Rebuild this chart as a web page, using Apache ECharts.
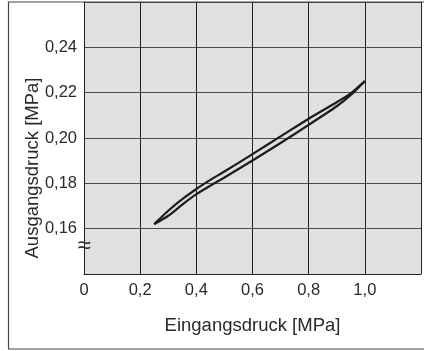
<!DOCTYPE html>
<html>
<head>
<meta charset="utf-8">
<script src="https://cdn.jsdelivr.net/npm/echarts@6/dist/echarts.min.js"></script>
<style>html,body{margin:0;padding:0;background:#fff}#c{width:424px;height:351px}</style>
</head>
<body>
<div id="c"></div>
<script>
// Data (Eingangsdruck [MPa] -> Ausgangsdruck [MPa])
const inputPressure = [0.25, 0.30, 0.35, 0.40, 0.45, 0.50, 0.60, 0.70, 0.80, 0.90, 0.95, 1.00];
const outputUpper   = [0.162, 0.1679, 0.1730, 0.1775, 0.1815, 0.1852, 0.1929, 0.2007, 0.2085, 0.2158, 0.2197, 0.2251];
const outputLower   = [0.162, 0.1657, 0.1706, 0.1752, 0.1790, 0.1826, 0.1901, 0.1978, 0.2058, 0.2140, 0.2190, 0.2251];
const xTicks = [0, 0.2, 0.4, 0.6, 0.8, 1.0];
const yTicks = [0.16, 0.18, 0.20, 0.22, 0.24];
const xName = 'Eingangsdruck [MPa]';
const yName = 'Ausgangsdruck [MPa]';
const breakSymbol = '≈';
const breakValue = [0, 0.152];

const fmt = (v, digits) => v.toFixed(digits).replace('.', ',');
const inList = (list, v) => list.some(t => Math.abs(t - v) < 1e-6);

const chart = echarts.init(document.getElementById('c'), null, {renderer: 'canvas'});
const font = 'Liberation Sans, Arial, Helvetica, sans-serif';
const pairs = arr => inputPressure.map((x, i) => [x, arr[i]]);

const lineStyle = {color: '#1c1c1c', width: 2.2};
chart.setOption({
  animation: false,
  grid: {left: 84, right: -8, top: 2, bottom: 77, show: true, backgroundColor: '#dfe0e2', borderWidth: 0},
  xAxis: {
    type: 'value', min: 0, max: 1.2, interval: 0.2,
    name: xName, nameLocation: 'middle', nameGap: 42, nameMoveOverlap: false,
    nameTextStyle: {fontFamily: font, fontSize: 18.5, color: '#2a2a2a'},
    axisLine: {show: true, lineStyle: {color: '#222', width: 1}},
    axisTick: {show: false},
    splitLine: {show: true, lineStyle: {color: '#222', width: 1}},
    axisLabel: {fontFamily: font, fontSize: 16.5, color: '#2a2a2a', margin: 8,
      formatter: v => inList(xTicks, v) ? (v === 0 ? '0' : fmt(v, 1)) : ''}
  },
  yAxis: {
    type: 'value', min: 0.14, max: 0.26, interval: 0.02,
    name: yName, nameLocation: 'middle', nameGap: 42, nameRotate: 90, nameMoveOverlap: false,
    nameTextStyle: {fontFamily: font, fontSize: 18.5, color: '#2a2a2a', padding: [0, 60, 0, 0]},
    axisLine: {show: true, lineStyle: {color: '#222', width: 1}},
    axisTick: {show: false},
    splitLine: {show: true, lineStyle: {color: '#4a4a4a', width: 1}},
    axisLabel: {fontFamily: font, fontSize: 16.5, color: '#2a2a2a', margin: 7, padding: [8, 0, 0, 0],
      formatter: v => inList(yTicks, v) ? fmt(v, 2) : ''}
  },
  series: [
    {type: 'line', data: pairs(outputUpper), smooth: 0.25, symbol: 'none', lineStyle, z: 5},
    {type: 'line', data: pairs(outputLower), smooth: 0.25, symbol: 'none', lineStyle, z: 5}
  ]
});

const bp = chart.convertToPixel({gridIndex: 0}, breakValue);
chart.setOption({
  graphic: [
    {type: 'rect', shape: {x: 8.5, y: 2, width: 440, height: 347}, style: {fill: null, stroke: '#444', lineWidth: 1.2}, z: 100, silent: true},
    {type: 'text', x: bp[0], y: bp[1], style: {text: breakSymbol, font: '24px ' + font, fill: '#2a2a2a', align: 'center', verticalAlign: 'middle'}, z: 100}
  ]
});
</script>
</body>
</html>
